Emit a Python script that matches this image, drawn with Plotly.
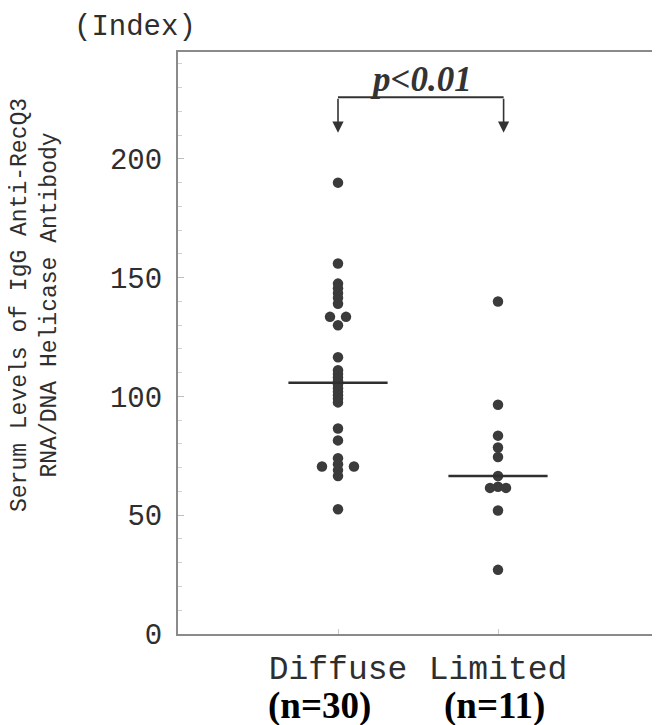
import numpy as np
import plotly.graph_objects as go

# ---- data ----
categories = ["Diffuse", "Limited"]
n_labels = ["(n=30)", "(n=11)"]

diffuse_values = [190, 156, 147.5, 145.5, 143.5, 141.5, 139, 133.5, 133.5, 130,
                  116.5, 111, 109.5, 108, 106.5, 105, 103.5, 102, 100.5, 99, 97.5,
                  86.5, 81.5, 74, 71.5, 70.5, 70.5, 69, 66.5, 52.5]
diffuse_slots = [0, 0, 0, 0, 0, 0, 0, -1, 1, 0,
                 0, 0, 0, 0, 0, 0, 0, 0, 0, 0, 0,
                 0, 0, 0, 0, -2, 2, 0, 0, 0]

limited_values = [140, 96.5, 83.5, 78.5, 74.5, 66.5, 62, 61.5, 61.5, 52, 27]
limited_slots = [0, 0, 0, 0, 0, 0, 0, -1, 1, 0, 0]

y_ticks = [0, 50, 100, 150, 200]
p_text = "p<0.01"

# ---- styling ----
OFF = 8                      # page body margin of the browser
W, H = 660 - OFF, 725 - OFF
ML, MR, MT = 178 - OFF, 2, 52 - OFF
MB = H - (634 - OFF)
PW, PH = W - ML - MR, H - MT - MB
DOT = "#3b3b3b"
FRAME = "#8a8a8a"
TXT = "#2e2e2e"
MONO = "Liberation Mono"
SERIF = "Liberation Serif"
slot_step = 0.05
half_line = 0.31


def px(xr):   # window pixel -> paper x
    return (xr - OFF - ML) / PW


def py(yr):   # window pixel -> paper y
    return (H - MB - (yr - OFF)) / PH


fig = go.Figure()

groups = [(diffuse_values, diffuse_slots), (limited_values, limited_slots)]
for i, (vals, slots) in enumerate(groups):
    xpos = i + 1
    fig.add_trace(go.Scatter(
        x=[xpos + s * slot_step for s in slots], y=vals, mode="markers",
        marker=dict(size=10.5, color=DOT, line=dict(width=0)),
        showlegend=False, hoverinfo="y"))
    med = float(np.median(vals))
    fig.add_trace(go.Scatter(
        x=[xpos - half_line, xpos + half_line], y=[med, med], mode="lines",
        line=dict(color="#2f2f2f", width=2.5), showlegend=False, hoverinfo="skip"))

# significance bracket
y_br = 226
y_tip = 211
x_l, x_r = 1.0, 2.035
fig.add_shape(type="line", x0=x_l, x1=x_r, y0=y_br, y1=y_br, xref="x", yref="y",
              line=dict(color="#333333", width=2))
for xx in (x_l, x_r):
    fig.add_annotation(x=xx, y=y_tip, ax=xx, ay=y_br, xref="x", yref="y",
                       axref="x", ayref="y", text="", showarrow=True,
                       arrowhead=2, arrowsize=1.4, arrowwidth=1.6, arrowcolor="#333333")
fig.add_annotation(x=(x_l + x_r) / 2, y=y_br, xref="x", yref="y", yanchor="bottom",
                   text="<b><i>" + p_text.replace("<", "&lt;") + "</i></b>", showarrow=False,
                   font=dict(family=SERIF, size=35, color="#333333"), yshift=-4)

# (Index) label
fig.add_annotation(x=px(135), y=py(28), xref="paper", yref="paper", text="(Index)",
                   showarrow=False, xanchor="center", yanchor="middle",
                   font=dict(family=MONO, size=29, color=TXT))

# y-axis title
fig.add_annotation(x=px(35), y=py(305), xref="paper", yref="paper",
                   text="Serum Levels of IgG Anti-RecQ3<br>RNA/DNA Helicase Antibody",
                   textangle=-90, showarrow=False, xanchor="center", yanchor="middle",
                   font=dict(family=MONO, size=23, color=TXT))

# n labels
for i, lab in enumerate(n_labels):
    fig.add_annotation(x=i + 1, y=py(706), xref="x", yref="paper", text="<b>" + lab + "</b>",
                       showarrow=False, yanchor="middle", xshift=[-19, -4][i],
                       font=dict(family=SERIF, size=37, color="black"))

fig.update_layout(
    width=W, height=H, margin=dict(l=ML, r=MR, t=MT, b=MB, autoexpand=False),
    paper_bgcolor="white", plot_bgcolor="white", showlegend=False,
    xaxis=dict(range=[0, 3], tickvals=[1, 2], ticktext=categories,
               showline=True, linecolor=FRAME, linewidth=2, mirror=True,
               ticks="inside", ticklen=5, tickcolor="#c8c8c8", showgrid=False,
               zeroline=False, ticklabelstandoff=3,
               tickfont=dict(family=MONO, size=33, color=TXT)),
    yaxis=dict(range=[0, 245], tickvals=y_ticks, showline=True, linecolor=FRAME,
               linewidth=2, mirror=True, ticks="inside", ticklen=6, tickcolor="#bdbdbd",
               showgrid=False, zeroline=False, ticklabelstandoff=8,
               minor=dict(dtick=10, ticks="inside", ticklen=4, tickcolor="#cfcfcf",
                          showgrid=False),
               tickfont=dict(family=MONO, size=29, color=TXT)),
)

fig.write_html("out.html")
